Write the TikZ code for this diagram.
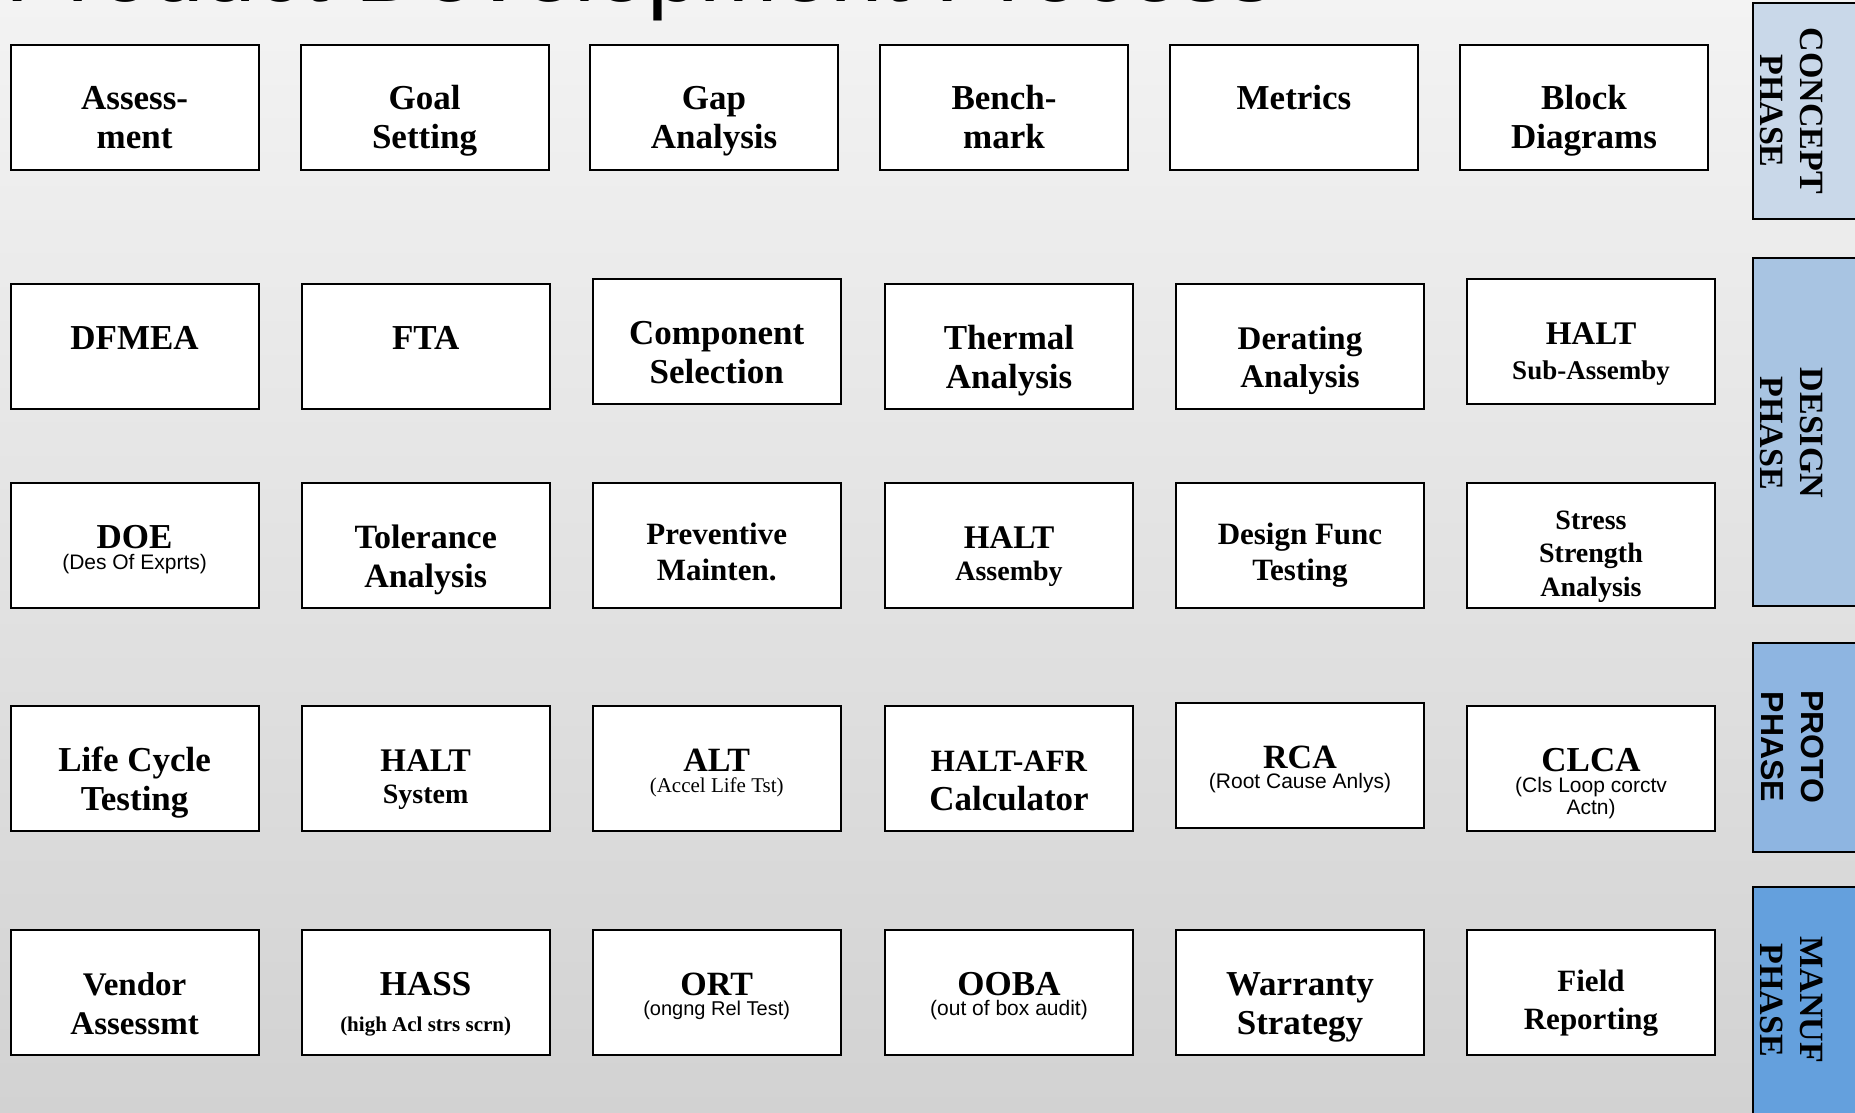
\documentclass[tikz,border=0pt]{standalone}
\usepackage{fontspec}
\setmainfont{Liberation Serif}
\setsansfont{Liberation Sans}
\definecolor{bgtop}{RGB}{243,243,243}
\definecolor{bgbot}{RGB}{210,210,210}
\definecolor{conceptc}{RGB}{201,216,233}
\definecolor{designc}{RGB}{168,196,226}
\definecolor{protoc}{RGB}{142,181,225}
\definecolor{manufc}{RGB}{100,160,221}
\newcommand\mf[2]{\rmfamily\bfseries\fontsize{#1}{#2}\selectfont}
\newcommand\fl[1]{\rule{0pt}{#1pt}}
\newcommand\pdsubbf[2]{\par\rmfamily\bfseries\fontsize{#1}{#2}\selectfont}
\newcommand\pdsubrm[2]{\par\rmfamily\mdseries\fontsize{#1}{#2}\selectfont}
\newcommand\pdsubsf[2]{\par\sffamily\mdseries\fontsize{#1}{#2}\selectfont}
\newcommand\pdbox[5]{\node[pbox] (#1) at (#2,#3) {\parbox[c][125pt][t]{248pt}{\centering#4#5\par}};}
\tikzset{
  pbox/.style={draw=black, line width=2pt, fill=white, inner sep=0pt, outer sep=0pt, anchor=north west},
  tabrect/.style={draw=black, line width=2pt},
  tabtext/.style={rotate=-90, align=center, inner sep=0pt},
}
\begin{document}
\begin{tikzpicture}[x=1pt,y=-1pt]
\useasboundingbox (0,0) rectangle (1855,1113);
\clip (0,0) rectangle (1855,1113);
\fill[top color=bgtop, bottom color=bgbot] (0,0) rectangle (1855,1113);
% title (cut off at the top)
\node[anchor=base west, inner sep=0pt, font=\sffamily\fontsize{94}{100}\selectfont] (title) at (5,2) {Product Development Process};
% phase tabs
\path[tabrect, fill=conceptc] (1753,3.5) rectangle (1880,219);
\path[tabrect, fill=designc] (1753,258) rectangle (1880,606);
\path[tabrect, fill=protoc] (1753,643) rectangle (1880,852);
\path[tabrect, fill=manufc] (1753,887) rectangle (1880,1130);
\node[tabtext, font=\rmfamily\bfseries\fontsize{34}{40}\selectfont] (concept) at (1792,111) {CONCEPT\\PHASE};
\node[tabtext, font=\rmfamily\bfseries\fontsize{34}{40}\selectfont] (design) at (1792,433) {DESIGN\\PHASE};
\node[tabtext, font=\sffamily\bfseries\fontsize{32}{40}\selectfont] (proto) at (1792,747) {PROTO\\PHASE};
\node[tabtext, font=\rmfamily\bfseries\fontsize{34}{40}\selectfont] (manuf) at (1792,1000) {MANUF\\PHASE};
% row 1
\pdbox{assess}{10.6}{45}{\mf{35}{39}}{\fl{65}Assess-\\ment}
\pdbox{goal}{300.5}{45}{\mf{35}{39}}{\fl{65}Goal\\Setting}
\pdbox{gap}{590}{45}{\mf{35}{39}}{\fl{65}Gap\\Analysis}
\pdbox{bench}{880}{45}{\mf{35}{39}}{\fl{65}Bench-\\mark}
\pdbox{metrics}{1170}{45}{\mf{35}{39}}{\fl{65}Metrics}
\pdbox{block}{1460}{45}{\mf{35}{39}}{\fl{65}Block\\Diagrams}
% row 2
\pdbox{dfmea}{10.6}{284}{\mf{35}{39}}{\fl{65}DFMEA}
\pdbox{fta}{301.7}{284}{\mf{35}{39}}{\fl{65}FTA}
\pdbox{comp}{592.7}{279}{\mf{35}{39}}{\fl{65}Component\\Selection}
\pdbox{thermal}{885}{284}{\mf{35}{39}}{\fl{65}Thermal\\Analysis}
\pdbox{derating}{1176}{284}{\mf{33}{38}}{\fl{65}Derating\\Analysis}
\pdbox{haltsub}{1467}{279}{\mf{33}{39}}{\fl{65}HALT\pdsubbf{27}{35}Sub-Assemby}
% row 3
\pdbox{doe}{10.6}{483}{\mf{35}{39}}{\fl{65}DOE\pdsubsf{21}{21}(Des Of Exprts)}
\pdbox{tol}{301.7}{483}{\mf{34}{39}}{\fl{65}Tolerance\\Analysis}
\pdbox{prev}{592.7}{483}{\mf{31}{36}}{\fl{61}Preventive\\Mainten.}
\pdbox{haltasm}{885}{483}{\mf{33}{39}}{\fl{65}HALT\pdsubbf{28}{32}Assemby}
\pdbox{dft}{1176}{483}{\mf{31}{36}}{\fl{61}Design Func\\Testing}
\pdbox{ssa}{1467}{483}{\mf{28}{33.5}}{\fl{46}Stress\\Strength\\Analysis}
% row 4
\pdbox{lct}{10.6}{706}{\mf{35}{39}}{\fl{65}Life Cycle\\Testing}
\pdbox{haltsys}{301.7}{706}{\mf{33}{39}}{\fl{65}HALT\pdsubbf{28}{32}System}
\pdbox{alt}{592.7}{706}{\mf{34}{39}}{\fl{65}ALT\pdsubrm{21}{21.5}(Accel Life Tst)}
\pdbox{afr}{885}{706}{\mf{35}{39}}{\fl{65}{\fontsize{31}{39}\selectfont HALT-AFR}\\Calculator}
\pdbox{rca}{1176}{703}{\mf{34}{39}}{\fl{65}RCA\pdsubsf{21}{20.5}(Root Cause Anlys)}
\pdbox{clca}{1467}{706}{\mf{35}{39}}{\fl{65}CLCA\pdsubsf{21}{21.5}(Cls Loop corctv\\Actn)}
% row 5
\pdbox{vendor}{10.6}{930}{\mf{33}{39}}{\fl{65}Vendor\\Assessmt}
\pdbox{hass}{301.7}{930}{\mf{35}{39}}{\fl{65}HASS\pdsubbf{21}{36}(high Acl strs scrn)}
\pdbox{ort}{592.7}{930}{\mf{34}{39}}{\fl{65}ORT\pdsubsf{20}{20.5}(ongng Rel Test)}
\pdbox{ooba}{885}{930}{\mf{35}{39}}{\fl{65}OOBA\pdsubsf{21}{20.5}(out of box audit)}
\pdbox{warranty}{1176}{930}{\mf{35}{39}}{\fl{65}Warranty\\Strategy}
\pdbox{field}{1467}{930}{\mf{31}{38}}{\fl{61}Field\\Reporting}
\end{tikzpicture}
\end{document}
